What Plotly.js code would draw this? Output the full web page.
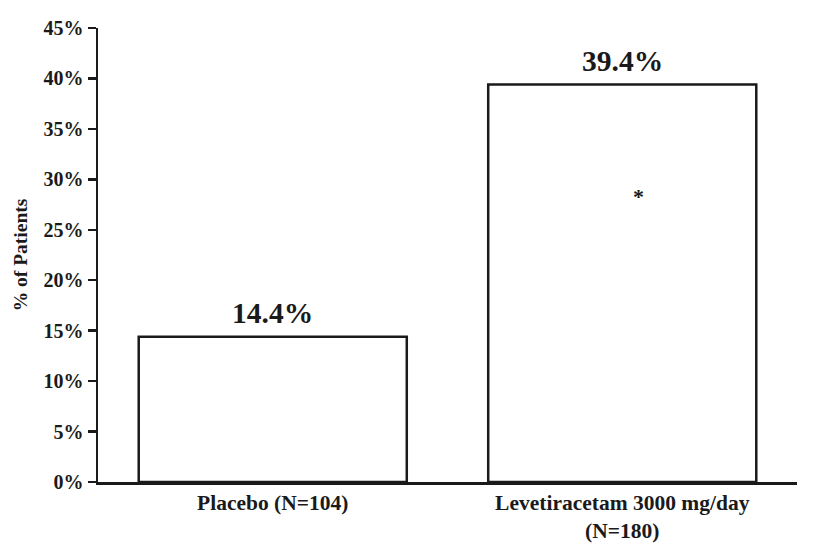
<!DOCTYPE html>
<html>
<head>
<meta charset="utf-8">
<script src="https://cdn.plot.ly/plotly-3.0.1.min.js"></script>
<style>html,body{margin:0;padding:0;background:#fff;}#chart{width:813px;height:546px;}</style>
</head>
<body>
<div id="chart"></div>
<script>
const categories = ["Placebo (N=104)", "Levetiracetam 3000 mg/day<br>(N=180)"];
const values = [14.4, 39.4];
const valueLabels = ["14.4%", "39.4%"];
const significance = ["", "*"];
const significanceY = [0, 28.3];
const yTickVals = [0, 5, 10, 15, 20, 25, 30, 35, 40, 45];
const yTickText = ["0%", "5%", "10%", "15%", "20%", "25%", "30%", "35%", "40%", "45%"];

const serif = "Liberation Serif, Times New Roman, serif";
const ink = "#1a1a1a";

const trace = {
  type: "bar",
  x: categories,
  y: values,
  marker: { color: "#ffffff", line: { color: ink, width: 2.5 } },
  hoverinfo: "skip"
};

const annotations = [];
categories.forEach((c, i) => {
  annotations.push({
    x: c, y: values[i], xref: "x", yref: "y",
    text: "<b>" + valueLabels[i] + "</b>",
    showarrow: false, yanchor: "bottom", yshift: 6,
    font: { family: serif, size: 29.5, color: ink }
  });
  if (significance[i]) {
    annotations.push({
      x: c, y: significanceY[i], xref: "x", yref: "y",
      text: "<b>" + significance[i] + "</b>",
      showarrow: false, xshift: 16,
      font: { family: serif, size: 22, color: ink }
    });
  }
});

const layout = {
  width: 813, height: 546,
  margin: { l: 98, r: 16, t: 28, b: 64 },
  paper_bgcolor: "#ffffff", plot_bgcolor: "#ffffff",
  showlegend: false,
  bargap: 0.233,
  xaxis: {
    type: "category",
    range: [-0.5, 1.5],
    tickvals: categories,
    ticktext: categories.map(c => "<b>" + c + "</b>"),
    showline: true, linecolor: ink, linewidth: 2.5,
    showgrid: false, zeroline: false, ticks: "",
    tickfont: { family: serif, size: 21.5, color: ink },
    ticklabelstandoff: 0
  },
  yaxis: {
    range: [0, 45],
    tickvals: yTickVals,
    ticktext: yTickText.map(t => "<b>" + t + "</b>"),
    showline: true, linecolor: ink, linewidth: 2.5,
    ticks: "outside", ticklen: 8, tickwidth: 2.5, tickcolor: ink,
    showgrid: false, zeroline: false,
    tickfont: { family: serif, size: 20, color: ink },
    title: { text: "<b>% of Patients</b>", font: { family: serif, size: 19.5, color: ink }, standoff: 11 }
  },
  annotations: annotations
};

Plotly.newPlot("chart", [trace], layout, { displayModeBar: false, staticPlot: true });
</script>
</body>
</html>
